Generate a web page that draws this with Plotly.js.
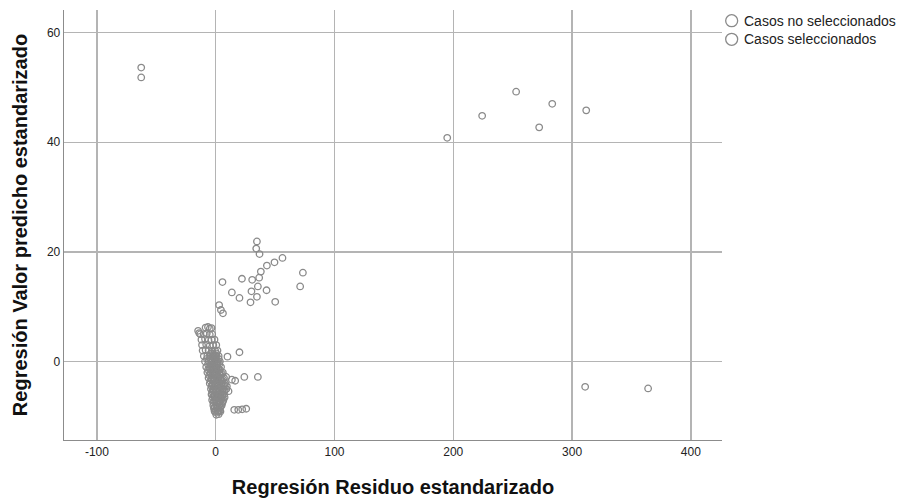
<!DOCTYPE html>
<html>
<head>
<meta charset="utf-8">
<script src="https://cdn.plot.ly/plotly-3.0.1.min.js"></script>
<style>html,body{margin:0;padding:0;background:#fff;}#chart{width:907px;height:498px;}</style>
</head>
<body>
<div id="chart"></div>
<script>
// Casos no seleccionados (outliers)
const noSelX = [-62.7, -62.7, 194.9, 224.3, 252.9, 272.3, 283.3, 311.9, 311.0, 364.0];
const noSelY = [53.6, 51.8, 40.8, 44.8, 49.2, 42.7, 47.0, 45.8, -4.6, -4.9];

// Casos seleccionados
const selX = [
  34.7, 34.1, 36.9, 56.2, 49.5, 43.1, 38.0, 36.6, 30.7, 22.1, 5.7, 73.4, 71.1, 35.5, 30.1, 42.8,
  13.6, 20.0, 34.7, 29.3, 50.1, 2.9, 4.4, 6.1,
  9.9, 20.0, 8.8, 13.6, 16.4, 24.1, 35.5, 9.4, 10.8, 15.6, 19.0, 22.3, 25.7,
  -14.8, -13.9, -8.5, -6.5, -5.0, -3.5,
  -13.0, -10.0, -7.5, -5.0, -3.0,
  -12.0, -9.0, -6.0, -3.5, -1.0,
  -11.5, -8.0, -5.0, -2.0, 0.5,
  -11.0, -8.5, -6.0, -3.0, -0.5, 1.5,
  -10.0, -7.0, -4.5, -2.0, 0.5, 2.5,
  -9.0, -6.0, -3.5, -1.0, 1.5, 3.5,
  -8.0, -5.0, -2.5, 0.0, 2.0, 4.5,
  -7.0, -4.5, -2.0, 0.5, 3.0, 6.0,
  -6.0, -3.5, -1.0, 1.5, 4.0, 7.0,
  -5.0, -2.5, 0.0, 2.5, 5.0, 8.0,
  -4.0, -2.0, 0.5, 3.0, 6.0, 9.0,
  -3.5, -1.0, 1.5, 4.0, 7.0,
  -3.0, -0.5, 2.0, 4.5, 6.5,
  -2.0, 0.5, 3.0, 5.0,
  -1.0, 1.5, 3.5,
  0.5, 2.5,
  -2.0, -1.0, 0.0, -1.5, 0.5, 1.0, -3.0, -0.5, -2.5, 0.0, 1.0, -1.0,
  -7.5, -5.0, -2.5, 0.0, 2.5,
  -6.5, -4.0, -1.5, 1.0, 3.0,
  -6.5, -4.0, -1.5, 1.0, 3.5,
  -5.5, -3.0, -0.5, 2.0, 4.5,
  -4.5, -2.0, 0.5, 3.0, 5.5,
  -3.5, -1.0, 1.5, 4.0, 6.5,
  -3.0, -0.5, 2.0, 4.5, 7.0,
  -2.5, 0.0, 2.5, 5.0, 7.5,
  -2.0, 0.5, 3.0, 5.5,
  -1.5, 1.0, 3.5,
  -0.5, 2.0, 4.0,
  -5.3, -2.8, -0.3, 2.2,
  -4.3, -1.8, 0.7, 3.2, 5.2,
  -3.3, -0.8, 1.7, 4.2, 6.2,
  -2.8, -0.3, 2.2, 4.7, 7.2,
  -2.3, 0.2, 2.7, 5.2, 7.7,
  -1.8, 0.7, 3.2, 5.7,
  -1.3, 1.2, 3.7, 6.0,
  -0.8, 1.7, 4.2,
  0.2, 2.7,
  -4.0, -2.5, -1.0, 0.5, -3.5, -1.5
];
const selY = [
  21.9, 20.6, 19.6, 18.9, 18.1, 17.5, 16.4, 15.3, 14.9, 15.1, 14.5, 16.2, 13.7, 13.7, 12.8, 13.0,
  12.6, 11.6, 11.8, 10.8, 10.9, 10.3, 9.4, 8.8,
  0.9, 1.7, -2.8, -3.3, -3.5, -2.8, -2.8, -4.5, -5.4, -8.8, -8.8, -8.7, -8.6,
  5.6, 5.2, 6.2, 6.3, 6.0, 6.1,
  5.0, 5.0, 5.1, 4.9, 5.0,
  4.0, 4.1, 3.9, 4.0, 4.0,
  3.0, 3.1, 2.9, 3.0, 3.0,
  2.0, 2.1, 2.0, 1.9, 2.0, 2.0,
  1.0, 1.1, 1.0, 0.9, 1.0, 1.0,
  0.0, 0.1, 0.0, -0.1, 0.0, 0.0,
  -1.0, -1.0, -0.9, -1.0, -1.1, -1.0,
  -2.0, -2.0, -2.1, -1.9, -2.0, -2.0,
  -3.0, -3.0, -3.1, -2.9, -3.0, -3.0,
  -4.0, -4.1, -4.0, -3.9, -4.0, -4.0,
  -5.0, -5.0, -5.1, -4.9, -5.0, -5.0,
  -6.0, -6.1, -6.0, -5.9, -6.0,
  -7.0, -7.0, -7.1, -6.9, -7.0,
  -8.0, -8.1, -7.9, -8.0,
  -9.0, -9.0, -8.9,
  -9.7, -9.6,
  1.0, 0.5, -0.5, -1.0, 1.5, -1.5, 0.0, -2.0, 1.5, 1.0, -0.2, -3.5,
  0.5, 0.5, 0.4, 0.6, 0.5,
  -0.5, -0.5, -0.4, -0.6, -0.5,
  -1.5, -1.5, -1.4, -1.6, -1.5,
  -2.5, -2.5, -2.4, -2.6, -2.5,
  -3.5, -3.5, -3.4, -3.6, -3.5,
  -4.5, -4.5, -4.4, -4.6, -4.5,
  -5.5, -5.5, -5.4, -5.6, -5.5,
  -6.5, -6.5, -6.4, -6.6, -6.5,
  -7.5, -7.5, -7.4, -7.6,
  -8.5, -8.5, -8.4,
  -9.2, -9.2, -9.1,
  -1.25, -1.25, -1.2, -1.3,
  -2.25, -2.25, -2.2, -2.3, -2.25,
  -3.25, -3.25, -3.2, -3.3, -3.25,
  -4.25, -4.25, -4.2, -4.3, -4.25,
  -5.25, -5.25, -5.2, -5.3, -5.25,
  -6.25, -6.25, -6.2, -6.3,
  -7.25, -7.25, -7.2, -7.3,
  -8.25, -8.25, -8.2,
  -9.0, -9.0,
  1.5, 0.25, 1.25, -0.25, -0.75, 0.75
];

const xTicks = [-100, 0, 100, 200, 300, 400];
const yTicks = [0, 20, 40, 60];
const legendNames = ['Casos no seleccionados', 'Casos seleccionados'];

const grey = '#8a8a8a';
const markerStyle = {symbol: 'circle-open', size: 6.5, color: grey, line: {width: 1.3, color: grey}};

const traces = [
  {type: 'scatter', mode: 'markers', name: legendNames[0], x: noSelX, y: noSelY, marker: markerStyle},
  {type: 'scatter', mode: 'markers', name: legendNames[1], x: selX, y: selY, marker: markerStyle}
];

const fam = 'Liberation Sans, Arial, sans-serif';
const axisFont = {family: fam, size: 12, color: '#222'};
const titleFont = {family: fam, size: 20, color: '#111', weight: 'bold'};

// manual legend (paper coords)
const legY = [0.9751, 0.9319];
const annotations = legendNames.map((n, i) => ({
  xref: 'paper', yref: 'paper', x: 1.0304, y: legY[i], xanchor: 'left', yanchor: 'middle',
  text: n, showarrow: false, font: {family: fam, size: 14, color: '#222'}
}));
const shapes = legendNames.map((n, i) => ({
  type: 'circle', xref: 'paper', yref: 'paper', xsizemode: 'pixel', ysizemode: 'pixel',
  xanchor: 1.0147, yanchor: legY[i], x0: -6, x1: 6, y0: -6, y1: 6,
  line: {color: grey, width: 1.3}, fillcolor: 'rgba(0,0,0,0)'
}));

const layout = {
  width: 907, height: 498,
  margin: {l: 64, r: 185, t: 10, b: 58, autoexpand: false},
  paper_bgcolor: '#fff', plot_bgcolor: '#fff',
  showlegend: false,
  annotations: annotations,
  shapes: shapes,
  xaxis: {
    range: [-127.7, 426.2], tickvals: xTicks, ticktext: xTicks.map(String),
    showgrid: true, gridcolor: '#b4b4b4', gridwidth: 1.3, zeroline: false,
    showline: true, linecolor: '#8c8c8c', linewidth: 1.3, ticks: '', ticklen: 0,
    tickfont: axisFont,
    title: {text: 'Regresión Residuo estandarizado', standoff: 22, font: titleFont}
  },
  yaxis: {
    range: [-14.3, 64.1], tickvals: yTicks, ticktext: yTicks.map(String),
    showgrid: true, gridcolor: '#b4b4b4', gridwidth: 1.3, zeroline: false,
    showline: true, linecolor: '#8c8c8c', linewidth: 1.3, ticks: '', ticklen: 0,
    tickfont: axisFont,
    title: {text: 'Regresión Valor predicho estandarizado', standoff: 14, font: titleFont}
  }
};

Plotly.newPlot('chart', traces, layout, {displayModeBar: false, staticPlot: true});
</script>
</body>
</html>
